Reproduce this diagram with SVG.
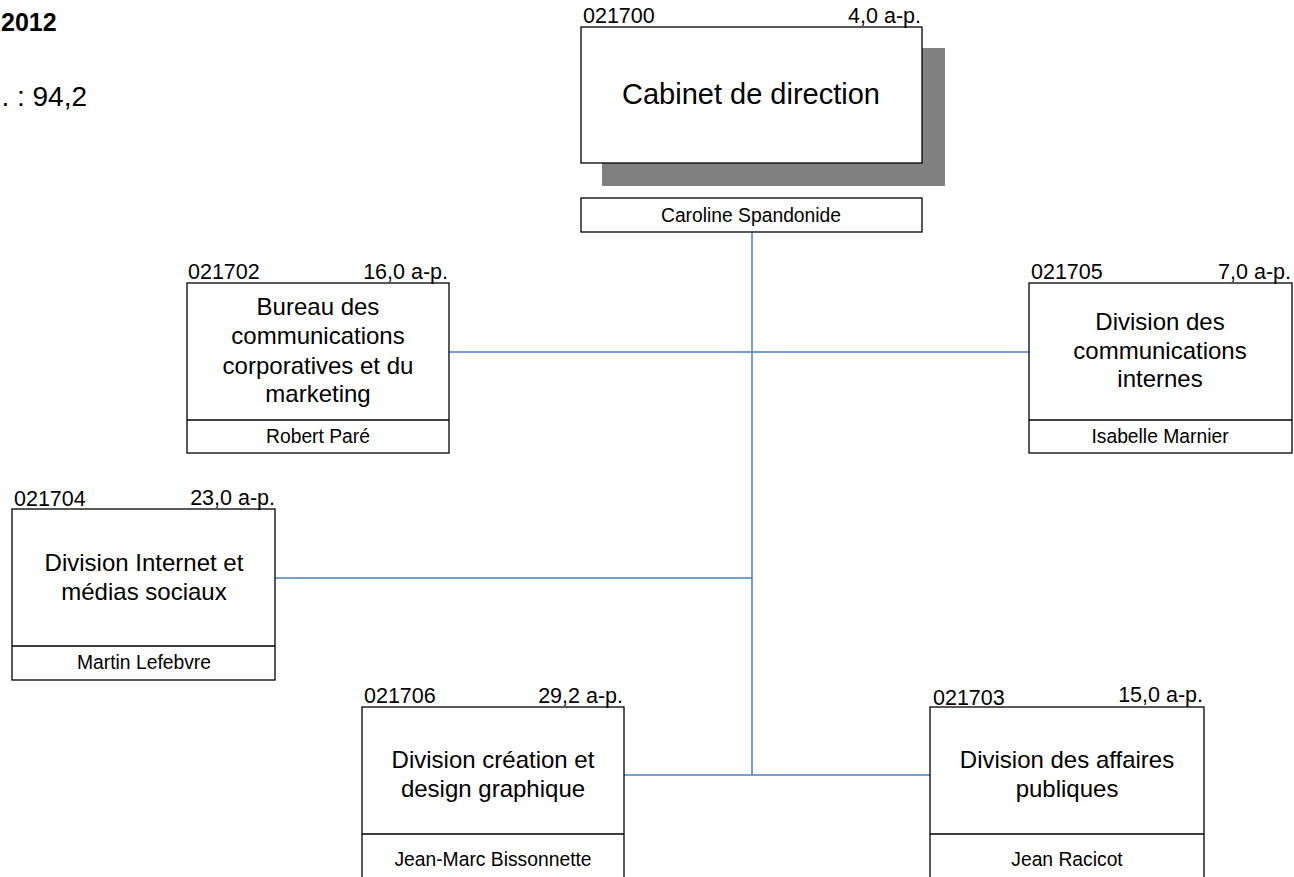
<svg xmlns="http://www.w3.org/2000/svg" width="1294" height="877" viewBox="0 0 1294 877">
<style>
text{font-family:"Liberation Sans",Arial,sans-serif;fill:#000}
.box{fill:#fff;stroke:#000;stroke-width:1.3}
.div{stroke:#000;stroke-width:1.3}
.code{font-size:21.5px}
.fte{font-size:21.5px;text-anchor:end}
.title{font-size:24px;text-anchor:middle}
.name{font-size:19.3px;text-anchor:middle}
.conn{stroke:#4a7ebb;stroke-width:1.5;fill:none}
</style>
<rect width="1294" height="877" fill="#fff"/>
<g id="header">
<text x="1" y="31" font-size="25" font-weight="bold">2012</text>
<text x="87" y="106" font-size="28" text-anchor="end">. : 94,2</text>
</g>
<g id="connectors">
<line class="conn" x1="752" y1="232" x2="752" y2="775"/>
<line class="conn" x1="449" y1="352" x2="1029" y2="352"/>
<line class="conn" x1="275" y1="578" x2="752" y2="578"/>
<line class="conn" x1="624" y1="775" x2="930" y2="775"/>
</g>
<g id="n021700">
<rect x="602" y="48" width="343" height="138" fill="#808080"/>
<rect class="box" x="581" y="27" width="341" height="136"/>
<text class="code" x="583" y="23">021700</text>
<text class="fte" x="921" y="23">4,0 a-p.</text>
<text x="751" y="104" font-size="29" text-anchor="middle">Cabinet de direction</text>
<rect class="box" x="581" y="198" width="341" height="34"/>
<text class="name" x="751" y="222">Caroline Spandonide</text>
</g>
<g id="n021702">
<rect class="box" x="187" y="283" width="262" height="170"/>
<line class="div" x1="187" y1="420" x2="449" y2="420"/>
<text class="code" x="188" y="279">021702</text>
<text class="fte" x="448" y="279">16,0 a-p.</text>
<text class="title" x="318" y="315">Bureau des</text>
<text class="title" x="318" y="344">communications</text>
<text class="title" x="318" y="374">corporatives et du</text>
<text class="title" x="318" y="402">marketing</text>
<text class="name" x="318" y="443">Robert Paré</text>
</g>
<g id="n021705">
<rect class="box" x="1029" y="283" width="263" height="170"/>
<line class="div" x1="1029" y1="420" x2="1292" y2="420"/>
<text class="code" x="1031" y="279">021705</text>
<text class="fte" x="1291" y="279">7,0 a-p.</text>
<text class="title" x="1160" y="330">Division des</text>
<text class="title" x="1160" y="359">communications</text>
<text class="title" x="1160" y="387">internes</text>
<text class="name" x="1160" y="443">Isabelle Marnier</text>
</g>
<g id="n021704">
<rect class="box" x="12" y="509" width="263" height="171"/>
<line class="div" x1="12" y1="646" x2="275" y2="646"/>
<text class="code" x="14" y="506">021704</text>
<text class="fte" x="275" y="505">23,0 a-p.</text>
<text class="title" x="144" y="571">Division Internet et</text>
<text class="title" x="144" y="600">médias sociaux</text>
<text class="name" x="144" y="669">Martin Lefebvre</text>
</g>
<g id="n021706">
<rect class="box" x="362" y="707" width="262" height="180"/>
<line class="div" x1="362" y1="834" x2="624" y2="834"/>
<text class="code" x="364" y="703">021706</text>
<text class="fte" x="623" y="703">29,2 a-p.</text>
<text class="title" x="493" y="768">Division création et</text>
<text class="title" x="493" y="797">design graphique</text>
<text class="name" x="493" y="866">Jean-Marc Bissonnette</text>
</g>
<g id="n021703">
<rect class="box" x="930" y="707" width="274" height="180"/>
<line class="div" x1="930" y1="834" x2="1204" y2="834"/>
<text class="code" x="933" y="705">021703</text>
<text class="fte" x="1203" y="702">15,0 a-p.</text>
<text class="title" x="1067" y="768">Division des affaires</text>
<text class="title" x="1067" y="797">publiques</text>
<text class="name" x="1067" y="866">Jean Racicot</text>
</g>
</svg>
